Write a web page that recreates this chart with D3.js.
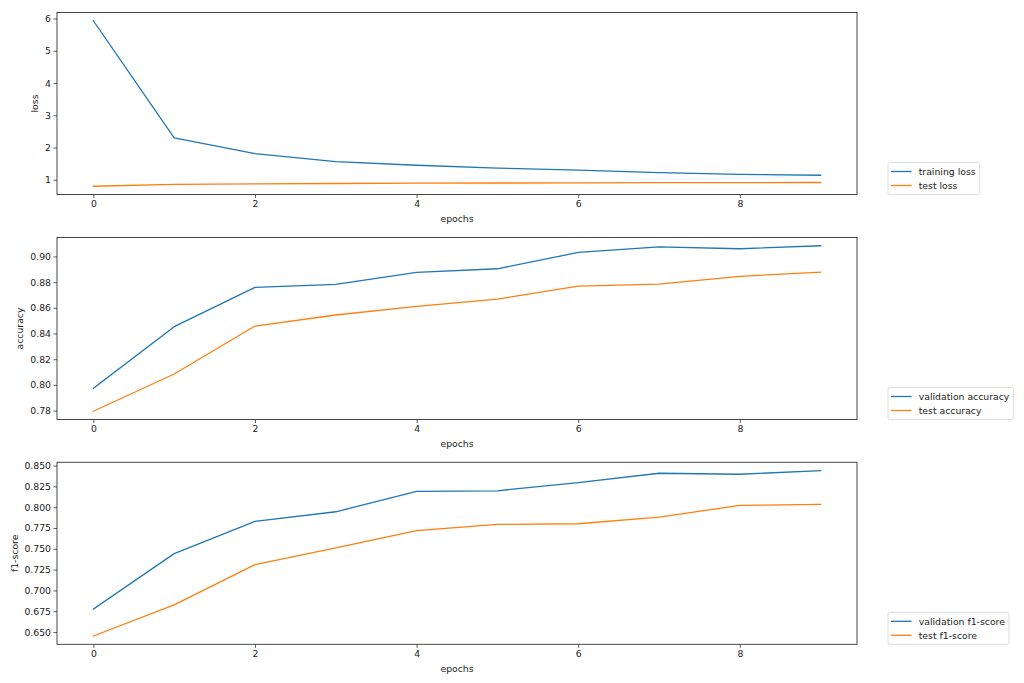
<!DOCTYPE html>
<html>
<head>
<meta charset="utf-8">
<script src="https://cdn.jsdelivr.net/npm/d3@7"></script>
<style>
  html, body { margin: 0; padding: 0; background: #fff; }
  svg { display: block; }
  text { font-family: "DejaVu Sans", sans-serif; fill: #222; }
</style>
</head>
<body>
<svg id="chart" width="1024" height="683"></svg>
<script>
// ---- data ----
const epochs = [0, 1, 2, 3, 4, 5, 6, 7, 8, 9];
const xTicks = [0, 2, 4, 6, 8];

const trainingLoss = [5.93, 2.30, 1.81, 1.56, 1.45, 1.36, 1.30, 1.22, 1.17, 1.14];
const testLoss     = [0.80, 0.855, 0.875, 0.885, 0.895, 0.90, 0.905, 0.91, 0.91, 0.915];
const lossTicks = [1, 2, 3, 4, 5, 6];

const validationAccuracy = [0.7974, 0.8453, 0.8759, 0.8782, 0.8876, 0.8904, 0.9031, 0.9075, 0.9060, 0.9083];
const testAccuracy       = [0.7795, 0.8085, 0.8458, 0.8544, 0.8611, 0.8668, 0.8769, 0.8785, 0.8845, 0.8878];
const accuracyTicks = [0.78, 0.80, 0.82, 0.84, 0.86, 0.88, 0.90];

const validationF1 = [0.6775, 0.7442, 0.7829, 0.7945, 0.8189, 0.8197, 0.8296, 0.8408, 0.8396, 0.8440];
const testF1       = [0.6452, 0.6827, 0.7310, 0.7510, 0.7718, 0.7793, 0.7801, 0.7881, 0.8021, 0.8033];
const f1Ticks = [0.650, 0.675, 0.700, 0.725, 0.750, 0.775, 0.800, 0.825, 0.850];

const panels = [
  { ylabel: "loss", series: [trainingLoss, testLoss], names: ["training loss", "test loss"], ticks: lossTicks, fmt: d3.format("d") },
  { ylabel: "accuracy", series: [validationAccuracy, testAccuracy], names: ["validation accuracy", "test accuracy"], ticks: accuracyTicks, fmt: d3.format(".2f") },
  { ylabel: "f1-score", series: [validationF1, testF1], names: ["validation f1-score", "test f1-score"], ticks: f1Ticks, fmt: d3.format(".3f") }
];
const colors = ["#1f77b4", "#ff7f0e"];

// ---- layout ----
const svg = d3.select("#chart");
const left = 57, right = 857;
const tops = [12.5, 237.5, 462.3];
const ph = 182;
const fs = 9.3;
const ylabelX = [34.7, 20, 14.3];

const x = d3.scaleLinear().domain([-0.45, 9.45]).range([left, right]);

panels.forEach((p, i) => {
  const top = tops[i], bottom = top + ph;
  const all = p.series.flat();
  const [mn, mx] = d3.extent(all);
  const pad = (mx - mn) * 0.05;
  const y = d3.scaleLinear().domain([mn - pad, mx + pad]).range([bottom, top]);

  const g = svg.append("g");

  // lines
  const line = d3.line().x((d, j) => x(epochs[j])).y(d => y(d));
  p.series.forEach((s, k) => {
    g.append("path").datum(s)
      .attr("d", line)
      .attr("fill", "none")
      .attr("stroke", colors[k])
      .attr("stroke-width", 1.3)
      .attr("stroke-linejoin", "round")
      .attr("stroke-linecap", "square");
  });

  // axes
  const xAxis = d3.axisBottom(x).tickValues(xTicks).tickFormat(d3.format("d")).tickSize(3.5).tickPadding(2.5);
  const gx = g.append("g").attr("transform", `translate(0,${bottom})`).call(xAxis);
  const yAxis = d3.axisLeft(y).tickValues(p.ticks).tickFormat(p.fmt).tickSize(3.5).tickPadding(2.5);
  const gy = g.append("g").attr("transform", `translate(${left},0)`).call(yAxis);
  [gx, gy].forEach(a => {
    a.select(".domain").remove();
    a.selectAll(".tick line").attr("stroke", "#333").attr("stroke-width", 0.8);
    a.selectAll(".tick text").attr("font-size", fs).attr("font-family", "DejaVu Sans").attr("fill", "#222");
  });

  // frame
  g.append("rect")
    .attr("x", left).attr("y", top)
    .attr("width", right - left).attr("height", ph)
    .attr("fill", "none").attr("stroke", "#333").attr("stroke-width", 0.9);

  // axis labels
  g.append("text")
    .attr("x", (left + right) / 2).attr("y", bottom + 27.5)
    .attr("text-anchor", "middle").attr("font-size", fs)
    .text("epochs");
  g.append("text")
    .attr("transform", `translate(${ylabelX[i] + 3.3},${(top + bottom) / 2}) rotate(-90)`)
    .attr("text-anchor", "middle").attr("font-size", fs)
    .text(p.ylabel);

  // legend
  const lg = g.append("g");
  const lx = 888, rowH = 14;
  const lbottom = bottom;
  const boxH = 32;
  const ltop = lbottom - boxH;
  const box = lg.append("rect")
    .attr("x", lx).attr("y", ltop).attr("height", boxH)
    .attr("rx", 2).attr("ry", 2)
    .attr("fill", "#fff").attr("fill-opacity", 0.8)
    .attr("stroke", "#d5d5d5").attr("stroke-width", 0.8);
  let maxW = 0;
  p.names.forEach((n, k) => {
    const cy = ltop + 9 + k * rowH;
    lg.append("line")
      .attr("x1", lx + 3).attr("x2", lx + 23.5)
      .attr("y1", cy).attr("y2", cy)
      .attr("stroke", colors[k]).attr("stroke-width", 1.3);
    const t = lg.append("text")
      .attr("x", lx + 30.7).attr("y", cy).attr("dy", "0.35em")
      .attr("font-size", fs).text(n);
    maxW = Math.max(maxW, t.node().getComputedTextLength());
  });
  box.attr("width", 30.7 + maxW + 4);
});
</script>
</body>
</html>
